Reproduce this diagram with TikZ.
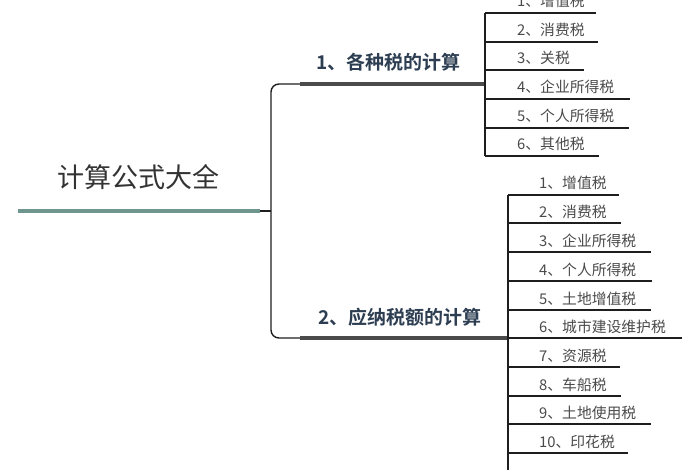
\documentclass[tikz,border=0pt]{standalone}
\usepackage{fontspec}
\newfontfamily\cjk{Noto Sans CJK SC}
\newfontfamily\cjkb{Noto Sans CJK SC Bold}
\definecolor{teal1}{HTML}{6F958F}
\definecolor{cat}{HTML}{2E3E52}
\definecolor{itemtxt}{HTML}{4A4A4A}
\definecolor{linec}{HTML}{1E1E1E}
\tikzset{
  itemline/.style={draw=linec, line width=1.8pt},
  branchline/.style={draw=linec, line width=1.4pt, rounded corners=8pt},
  thickline/.style={draw=linec!80!white, line width=3.4pt},
  itemlabel/.style={anchor=base west, inner sep=0pt, text=itemtxt, font=\cjk\fontsize{14.8}{14.8}\selectfont},
  catlabel/.style={anchor=base, inner sep=0pt, text=cat, font=\cjkb\fontsize{19}{19}\selectfont},
  rootlabel/.style={anchor=base, inner sep=0pt, text=black!80, font=\cjk\fontsize{27}{27}\selectfont}
}
\begin{document}
\begin{tikzpicture}[x=1pt,y=-1pt]
\useasboundingbox (0,0) rectangle (700,470);
\clip (0,0) rectangle (700,470);
% root
\node[rootlabel] (root) at (138.5,187.5) {计算公式大全};
\coordinate (rl) at (18,211);
\coordinate (rr) at (260,211);
\coordinate (hub) at (271,211);
\draw[teal1, line width=3.2pt] (rl) -- (rr);
\draw[linec, line width=1.4pt] (rr) -- (hub);
% branches
\coordinate (b1s) at (300,84);
\coordinate (b1e) at (485,84);
\coordinate (b2s) at (300,338);
\coordinate (b2e) at (508,338);
\draw[branchline] (b1e) -- (271,84) -- (271,338) -- (b2e);
\draw[thickline] (b1s) -- (b1e);
\draw[thickline] (b2s) -- (b2e);
\node[catlabel] (c1) at (388.5,70) {1、各种税的计算};
\node[catlabel] (c2) at (400,324) {2、应纳税额的计算};
% group 1
\coordinate (g1t) at (485,13);
\coordinate (g1b) at (485,156);
\draw[itemline] (g1t) -- (g1b);
\foreach \y/\len/\t [count=\i] in {13/596/1、增值税, 42/598/2、消费税, 70/584/3、关税, 99/630/4、企业所得税, 128/629/5、个人所得税, 156/599/6、其他税}{
  \coordinate (a\i l) at (485,\y);
  \coordinate (a\i r) at (\len,\y);
  \draw[itemline] (a\i l) -- (a\i r);
  \node[itemlabel] (a\i) at (517,\y-6) {\t};
}
% group 2
\coordinate (g2t) at (508,195);
\coordinate (g2b) at (508,470);
\draw[itemline] (g2t) -- (g2b);
\foreach \y/\len/\t [count=\i] in {195/619/1、增值税, 223/621/2、消费税, 252/651/3、企业所得税, 281/652/4、个人所得税, 310/651/5、土地增值税, 338/682/6、城市建设维护税, 367/620/7、资源税, 396/621/8、车船税, 424/651/9、土地使用税, 453/628/10、印花税}{
  \coordinate (d\i l) at (508,\y);
  \coordinate (d\i r) at (\len,\y);
  \draw[itemline] (d\i l) -- (d\i r);
  \node[itemlabel] (d\i) at (539,\y-6) {\t};
}
\end{tikzpicture}
\end{document}
